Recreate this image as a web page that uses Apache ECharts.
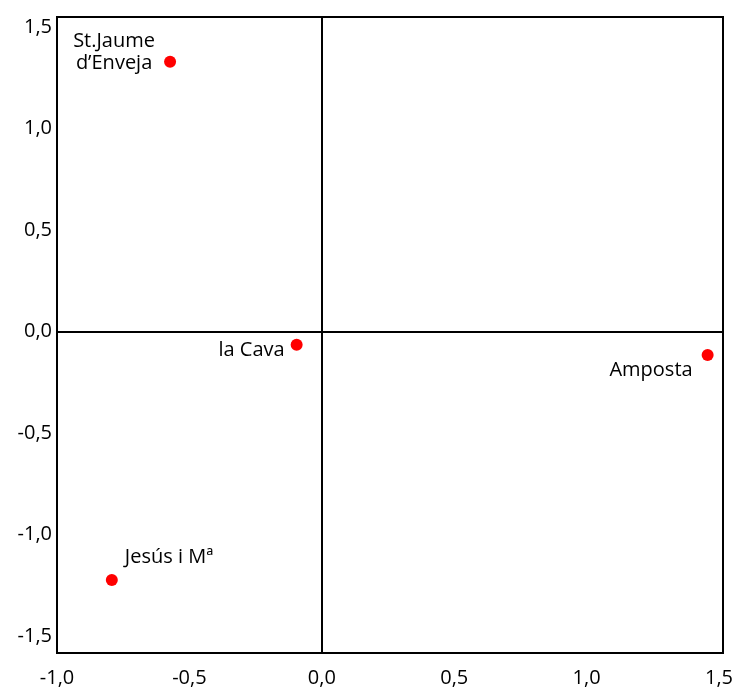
<!DOCTYPE html>
<html><head><meta charset="utf-8">
<script src="https://cdn.jsdelivr.net/npm/echarts@6/dist/echarts.min.js"></script>
<style>html,body{margin:0;padding:0;background:#fff}#c{width:737px;height:695px}</style>
</head><body><div id="c"></div>
<script>
var names = ['St.Jaume\nd\u2019Enveja', 'la Cava', 'Amposta', 'Jes\u00fas i M\u00aa'];
var xs = [-0.573, -0.095, 1.457, -0.793];
var ys = [1.329, -0.066, -0.116, -1.224];
var xTicks = [-1, -0.5, 0, 0.5, 1, 1.5];
var yTicks = [-1.5, -1, -0.5, 0, 0.5, 1, 1.5];

var labelPos = [
  {position: [-50, -3], align: 'center', verticalAlign: 'middle'},
  {position: [-6, 11], align: 'right', verticalAlign: 'middle'},
  {position: [-9, 21], align: 'right', verticalAlign: 'middle'},
  {position: [19, -17], align: 'left', verticalAlign: 'middle'}
];
var font = 'Open Sans';
var fmt = function (v) { return (Math.round(v * 10) / 10).toFixed(1).replace('.', ','); };

var data = names.map(function (n, i) {
  return {
    name: n, value: [xs[i], ys[i]],
    label: Object.assign({show: true, formatter: n, color: '#000', opacity: 1, fontSize: 20, fontFamily: font, lineHeight: 22}, labelPos[i])
  };
});

var chart = echarts.init(document.getElementById('c'), null, {renderer: 'canvas'});
chart.setOption({
  animation: false,
  backgroundColor: '#fff',
  grid: {left: 57, right: 14, top: 17, bottom: 42, show: true, borderColor: '#000', borderWidth: 2, backgroundColor: 'transparent'},
  xAxis: {
    type: 'value', min: -1, max: 1.515,
    axisLine: {show: false}, axisTick: {show: false}, splitLine: {show: false},
    axisLabel: {customValues: xTicks, formatter: fmt, color: '#000', fontSize: 20, fontFamily: font, margin: 15, showMinLabel: true, showMaxLabel: true}
  },
  yAxis: {
    type: 'value', min: -1.584, max: 1.549,
    axisLine: {show: false}, axisTick: {show: false}, splitLine: {show: false},
    axisLabel: {customValues: yTicks, formatter: fmt, color: '#000', fontSize: 20, fontFamily: font, margin: 5, showMinLabel: true, showMaxLabel: true}
  },
  series: [{
    type: 'scatter', symbol: 'circle', symbolSize: 12,
    itemStyle: {color: '#ff0000', opacity: 1},
    emphasis: {disabled: true},
    data: data,
    markLine: {
      silent: true, symbol: 'none', label: {show: false},
      lineStyle: {color: '#000', width: 2, type: 'solid', opacity: 1},
      data: [{xAxis: 0}, {yAxis: 0}]
    }
  }]
});
</script></body></html>
